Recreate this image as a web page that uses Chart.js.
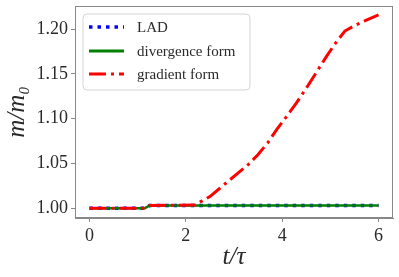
<!DOCTYPE html>
<html>
<head>
<meta charset="utf-8">
<script src="https://cdn.jsdelivr.net/npm/chart.js@4.4.1/dist/chart.umd.min.js"></script>
<style>
  html, body { margin: 0; padding: 0; background: #fff; }
  #wrap { width: 399px; height: 277px; }
</style>
</head>
<body>
<div id="wrap"><canvas id="massChart" width="399" height="277"></canvas></div>
<script>
// values
const ladT = [0, 1.15, 1.25, 6.0];
const ladM = [1.000, 1.000, 1.003, 1.003];

const divT = [0, 1.15, 1.25, 6.0];
const divM = [1.000, 1.000, 1.003, 1.003];

const gradT = [0, 1.15, 1.25, 2.2, 2.3, 2.5, 2.7, 2.9, 3.1, 3.3, 3.5, 3.7, 3.9,
               4.1, 4.3, 4.5, 4.7, 4.9, 5.1, 5.3, 5.5, 5.7, 6.0];
const gradM = [1.000, 1.000, 1.003, 1.0035, 1.007, 1.013, 1.022, 1.031, 1.040, 1.049, 1.060, 1.073, 1.089,
               1.103, 1.118, 1.134, 1.151, 1.168, 1.184, 1.198, 1.204, 1.209, 1.216];

const xTicks = [0, 2, 4, 6];
const yTicks = [1.00, 1.05, 1.10, 1.15, 1.20];

const seriesLabels = ['LAD', 'divergence form', 'gradient form'];

const SERIF = "'Liberation Serif', 'DejaVu Serif', serif";
const FRAME = '#888';
const TEXT = '#2a2a2a';

const pts = (t, m) => t.map((v, i) => ({ x: v, y: m[i] }));

// frame on all four sides + legend inside the plot (upper left)
const framePlugin = {
    id: 'frameAndLegend',
    afterDatasetsDraw(chart) {
        const { ctx, chartArea: a } = chart;
        ctx.save();
        ctx.strokeStyle = FRAME;
        ctx.lineWidth = 1;
        ctx.strokeRect(a.left + 0.5, a.top + 0.5, a.right - a.left - 1, a.bottom - a.top - 1);

        // legend box
        const bx = 83, by = 14, bw = 167, bh = 76, r = 4;
        ctx.beginPath();
        ctx.moveTo(bx + r, by);
        ctx.arcTo(bx + bw, by, bx + bw, by + bh, r);
        ctx.arcTo(bx + bw, by + bh, bx, by + bh, r);
        ctx.arcTo(bx, by + bh, bx, by, r);
        ctx.arcTo(bx, by, bx + bw, by, r);
        ctx.closePath();
        ctx.fillStyle = 'rgba(255,255,255,0.8)';
        ctx.fill();
        ctx.strokeStyle = '#d5d5d5';
        ctx.stroke();

        const rows = [27, 51, 74];
        ctx.font = '15px ' + SERIF;
        ctx.textBaseline = 'middle';
        chart.data.datasets.forEach((ds, i) => {
            const y = rows[i];
            ctx.beginPath();
            ctx.setLineDash(ds.borderDash || []);
            ctx.lineWidth = ds.legendWidth;
            ctx.strokeStyle = ds.borderColor;
            ctx.moveTo(89, y);
            ctx.lineTo(124, y);
            ctx.stroke();
            ctx.setLineDash([]);
            ctx.fillStyle = TEXT;
            ctx.fillText(ds.label, 137, y + 1);
        });
        ctx.restore();
    }
};

const ctx = document.getElementById('massChart').getContext('2d');
const chart = new Chart(ctx, {
    type: 'line',
    data: {
        datasets: [
            {
                label: seriesLabels[0],
                data: pts(ladT, ladM),
                borderColor: '#0000ff',
                borderWidth: 3.5,
                legendWidth: 3.5,
                borderDash: [3.5, 5],
                order: 3
            },
            {
                label: seriesLabels[1],
                data: pts(divT, divM),
                borderColor: '#008000',
                borderWidth: 2.5,
                legendWidth: 3,
                order: 2
            },
            {
                label: seriesLabels[2],
                data: pts(gradT, gradM),
                borderColor: '#ff0000',
                borderWidth: 3,
                legendWidth: 3,
                borderDash: [17, 5, 3, 5],
                order: 1
            }
        ]
    },
    options: {
        responsive: false,
        animation: false,
        layout: { padding: { top: 6, right: 6, left: 0, bottom: 0 } },
        elements: {
            point: { radius: 0 },
            line: { tension: 0, borderCapStyle: 'butt', fill: false }
        },
        plugins: {
            legend: { display: false },
            tooltip: { enabled: false }
        },
        scales: {
            x: {
                type: 'linear',
                min: -0.3,
                max: 6.3,
                afterBuildTicks: s => { s.ticks = xTicks.map(v => ({ value: v })); },
                afterFit: s => { s.height = 59; s.paddingLeft = 0; s.paddingRight = 0; },
                grid: { drawOnChartArea: false, drawTicks: true, tickLength: 4, color: FRAME },
                border: { display: true, color: FRAME },
                ticks: {
                    color: TEXT,
                    padding: 3,
                    font: { family: SERIF, size: 18 },
                    callback: v => String(v)
                },
                title: {
                    display: true,
                    text: 't/τ',
                    color: TEXT,
                    font: { family: SERIF, size: 25, style: 'italic' },
                    padding: { top: 0, bottom: 5 }
                }
            },
            y: {
                type: 'linear',
                min: 0.989,
                max: 1.226,
                afterBuildTicks: s => { s.ticks = yTicks.map(v => ({ value: v })); },
                afterFit: s => { s.width = 75; s.paddingTop = 0; s.paddingBottom = 0; },
                grid: { drawOnChartArea: false, drawTicks: true, tickLength: 4, color: FRAME },
                border: { display: true, color: FRAME },
                ticks: {
                    color: TEXT,
                    padding: 3,
                    font: { family: SERIF, size: 18 },
                    callback: v => v.toFixed(2)
                },
                title: {
                    display: true,
                    text: 'm/m₀',
                    color: TEXT,
                    font: { family: SERIF, size: 25, style: 'italic' },
                    padding: { top: 2, bottom: 0 }
                }
            }
        }
    },
    plugins: [framePlugin]
});
</script>
</body>
</html>
